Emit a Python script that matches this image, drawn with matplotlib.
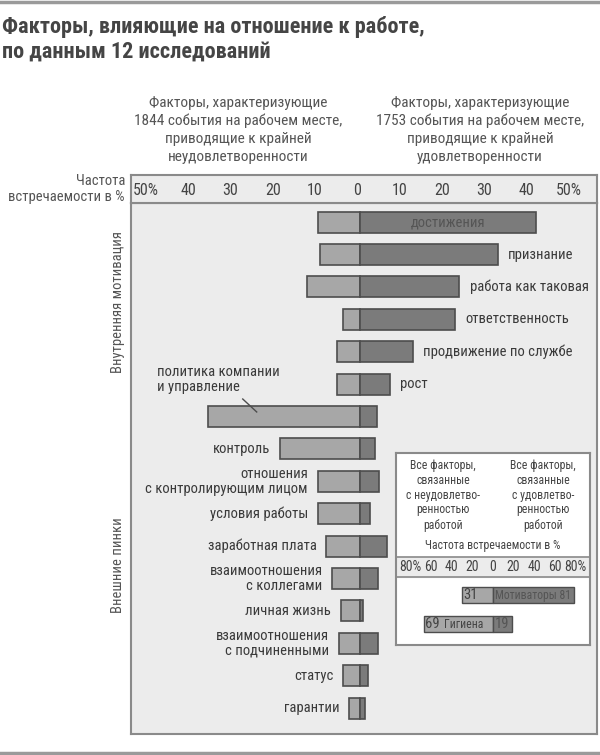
import matplotlib
matplotlib.use("Agg")
import matplotlib.pyplot as plt
import numpy as np

plt.rcParams['font.family'] = ['Roboto Condensed', 'Roboto', 'DejaVu Sans']

# ---------------- data ----------------
motivators = ['достижения', 'признание', 'работа как таковая', 'ответственность',
              'продвижение по службе', 'рост']
mot_dissat = [10, 9.5, 12.5, 4, 5.5, 5.5]
mot_sat = [41.5, 32.5, 23.5, 22.5, 12.5, 7]

hygiene = ['политика компании\nи управление', 'контроль', 'отношения\nс контролирующим лицом',
           'условия работы', 'заработная плата', 'взаимоотношения\nс коллегами',
           'личная жизнь', 'взаимоотношения\nс подчиненными', 'статус', 'гарантии']
hyg_dissat = [36, 19, 10, 10, 8, 6.5, 4.5, 5, 4, 2.5]
hyg_sat = [4, 3.5, 4.5, 2.3, 6.5, 4.3, 0.8, 4.2, 1.8, 1.1]

tick_values = [-50, -40, -30, -20, -10, 0, 10, 20, 30, 40, 50]
tick_labels = ['50%', '40', '30', '20', '10', '0', '10', '20', '30', '40', '50%']

summary_groups = ['Мотиваторы', 'Гигиена']
summary_dissat = [31, 69]
summary_sat = [81, 19]
inset_tick_labels = ['80%', '60', '40', '20', '0', '20', '40', '60', '80%']

# ---------------- style ----------------
LIGHT = '#a7a7a7'
DARK = '#7b7b7b'
EDGE = '#4d4d4d'
BG = '#ececec'
TXT = '#3a3a3a'
FRAME = '#8a8a8a'
FS = 10.5

W, H = 600, 755
fig = plt.figure(figsize=(W / 100, H / 100), dpi=100)
fig.patch.set_facecolor('white')

def fx(px):
    return px / W

def fy(py):
    return 1 - py / H

# horizontal rules at top and bottom
fig.add_artist(plt.Line2D([0, 1], [fy(2), fy(2)], color='#9a9a9a', lw=2.5))
fig.add_artist(plt.Line2D([0, 1], [fy(753), fy(753)], color='#9a9a9a', lw=2.5))

# title
fig.text(fx(2), fy(39), 'Факторы, влияющие на отношение к работе,\nпо данным 12 исследований',
         fontsize=16, fontweight='bold', color='#454545', ha='left', va='center',
         linespacing=1.15)

# header texts
fig.text(fx(238), fy(130), 'Факторы, характеризующие\n1844 события на рабочем месте,\nприводящие к крайней\nнеудовлетворенности',
         fontsize=11, color='#555555', ha='center', va='center', linespacing=1.35)
fig.text(fx(480), fy(130), 'Факторы, характеризующие\n1753 события на рабочем месте,\nприводящие к крайней\nудовлетворенности',
         fontsize=11, color='#555555', ha='center', va='center', linespacing=1.35)
fig.text(fx(125), fy(189), 'Частота\nвстречаемости в %', fontsize=10.5, color='#555555',
         ha='right', va='center', linespacing=1.1)

# ---------------- main panel ----------------
left_px, right_px = 131, 597
top_px, bot_px = 203, 734
ax = fig.add_axes([fx(left_px), fy(bot_px), fx(right_px - left_px), (bot_px - top_px) / H])
ax.set_facecolor(BG)
xmin, xmax = -54.1, 56.0
ax.set_xlim(xmin, xmax)

cats = motivators + hygiene
dissat = mot_dissat + hyg_dissat
sat = mot_sat + hyg_sat
y = np.arange(len(cats))
ax.set_ylim(15.8, -0.59)

bh = 0.65
ax.barh(y, [-d for d in dissat], height=bh, color=LIGHT, edgecolor=EDGE, linewidth=1.2)
ax.barh(y, sat, height=bh, color=DARK, edgecolor=EDGE, linewidth=1.2)

for i, name in enumerate(motivators):
    if i == 0:
        ax.text(mot_sat[i] / 2, i, name, ha='center', va='center', fontsize=FS, color='#555555')
    else:
        ax.text(mot_sat[i] + 2.5, i, name, ha='left', va='center', fontsize=FS, color=TXT)

off = len(motivators)
for j, name in enumerate(hygiene):
    yi = off + j
    if j == 0:
        ax.text(-48, yi - 1.15, name, ha='left', va='center', fontsize=FS, color=TXT,
                linespacing=1.1)
        ax.plot([-27.7, -24.4], [yi - 0.54, yi - 0.14], color=EDGE, lw=1)
    else:
        ax.text(-hyg_dissat[j] - 2.3, yi, name, ha='right', va='center', fontsize=FS,
                color=TXT, linespacing=1.1)

ax.set_xticks([])
ax.set_yticks([])
for s in ax.spines.values():
    s.set_color(FRAME)
    s.set_linewidth(1.5)

# header tick band
hax = fig.add_axes([fx(left_px), fy(top_px), fx(right_px - left_px), (top_px - 175) / H])
hax.set_facecolor(BG)
hax.set_xlim(xmin, xmax)
hax.set_ylim(0, 1)
for v, lab in zip(tick_values, tick_labels):
    hax.text(v - 0.6, 0.45, lab, ha='center', va='center', fontsize=11.5, color='#444444')
hax.set_xticks([])
hax.set_yticks([])
for s in hax.spines.values():
    s.set_color(FRAME)
    s.set_linewidth(1.5)

# section labels
fig.text(fx(118), fy(302), 'Внутренняя мотивация', rotation=90, fontsize=FS,
         color='#555555', ha='center', va='center')
fig.text(fx(118), fy(565), 'Внешние пинки', rotation=90, fontsize=FS,
         color='#555555', ha='center', va='center')

# ---------------- inset ----------------
il, ir, it, ib = 396, 590, 453, 645
iax = fig.add_axes([fx(il), fy(ib), fx(ir - il), (ib - it) / H])
iax.set_facecolor('white')
iax.set_xlim(il - 493, ir - 493)
iax.set_ylim(ib - it, 0)
iax.set_xticks([])
iax.set_yticks([])
for s in iax.spines.values():
    s.set_color(FRAME)
    s.set_linewidth(1.5)

iax.text(-50, 42, 'Все факторы,\nсвязанные\nс неудовлетво-\nренностью\nработой',
         ha='center', va='center', fontsize=8.5, color='#444444', linespacing=1.2)
iax.text(50, 42, 'Все факторы,\nсвязанные\nс удовлетво-\nренностью\nработой',
         ha='center', va='center', fontsize=8.5, color='#444444', linespacing=1.2)
iax.text(0, 93, 'Частота встречаемости в %', ha='center', va='center', fontsize=8.5,
         color='#444444')
iax.axhspan(104, 124, color=BG, zorder=1)
iax.axhline(104, color=FRAME, lw=1.2, zorder=2)
iax.axhline(124, color=FRAME, lw=1.2, zorder=2)
for k, lab in enumerate(inset_tick_labels):
    iax.text(0.075 + k * (0.85 / 8), 1 - 114 / (ib - it), lab, transform=iax.transAxes,
             ha='center', va='center', fontsize=10, color='#444444', zorder=3)

sy = [142, 171]
iax.barh(sy, [-d for d in summary_dissat], height=16, color=LIGHT, edgecolor=EDGE,
         linewidth=1.0, zorder=3)
iax.barh(sy, summary_sat, height=16, color=DARK, edgecolor=EDGE, linewidth=1.0, zorder=3)
iax.text(-summary_dissat[0] + 1.5, sy[0], str(summary_dissat[0]), ha='left', va='center',
         fontsize=10.5, color='#444444', zorder=4)
iax.text(summary_sat[0] - 3, sy[0], summary_groups[0] + ' ' + str(summary_sat[0]), ha='right',
         va='center', fontsize=8.5, color='#555555', zorder=4)
iax.text(-summary_dissat[1] + 1.5, sy[1], str(summary_dissat[1]), ha='left', va='center',
         fontsize=10.5, color='#444444', zorder=4)
iax.text(-summary_dissat[1] + 20, sy[1], summary_groups[1], ha='left', va='center',
         fontsize=8.5, color='#444444', zorder=4)
iax.text(summary_sat[1] / 2, sy[1], str(summary_sat[1]), ha='center', va='center',
         fontsize=10.5, color='#555555', zorder=4)

fig.savefig('out.png', dpi=100, facecolor='white')
